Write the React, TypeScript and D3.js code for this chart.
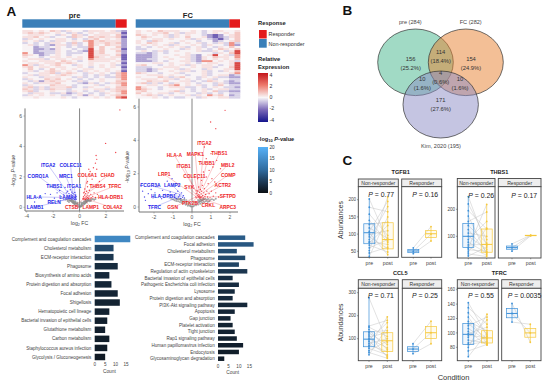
import * as d3 from 'd3'

const FONT = 'Arial, "Liberation Sans", sans-serif'

// ---- A: heatmaps, levels 0-8 per cell (4 is about zero)
const heatLevels = [-4, -2.2, -1.2, -0.5, 0.05, 0.35, 0.75, 1.6, 3.0]
const heatPre = [
  '5545465354435554532', '5656545435345455551', '4555443546534555462', '5564534436546565561',
  '3545445543435645452', '5453435545467565552', '3434355436347556562', '4534325535347546552',
  '4423345434337464462', '4422325443438464551', '4423335434328564462', '7422335433348564452',
  '6542345434448555461', '5443455454548654551', '4555345545547555541', '5445554654345555452',
  '4554556565445444541', '7535456443545454532', '5645545544543454541', '4643464545455445442',
  '4534565454354545451', '3445563565435454367', '4535545654434353467', '5443555443534343367',
  '3544656454343454457', '4352565543534454466', '5435556444325343567', '3544465543444534457',
  '5635355563435445466', '6535365534454553566', '5634454435434354567', '4355433523543435457',
  '3545454334525434566', '4454444543444545478',
]
const heatFC = [
  '5454655544543455445', '5445564535543454546', '6545453545443212456', '4654453546445212356',
  '4545545445354321346', '5436544454434423456', '5465445345453435373', '4545453544543544372',
  '3434545453453435464', '3344454435454346546', '4543534544453354358', '3323434445444435468',
  '2223444545324584537', '2223454455325465547', '2233445445325454546', '2223434455327745453',
  '4445545445434554458', '5644345453545543458', '3334455544545534468', '3323544535443544558',
  '3323445455345343546', '6544344534445344457', '4455545443445345523', '5444653564435453322',
  '4555455345434534433', '4465564455343654323', '5635343545434435322', '4455456745453436433',
  '7544345553343454332', '7654344454345345533', '5644445634345463322', '6454553454435343433',
  '4565345445354756423', '4445434334435445533',
]
const exprTicks = [4, 2, 0, -2, -4]
const pvalTicks = [20, 15, 10, 5, 0]

// ---- A: volcano points [log2FC, -log10 P]
const leftGrey = [[-.05,.02],[.05,.03],[-.1,.05],[.1,.06],[-.15,.08],[.15,.09],[-.2,.1],[.2,.12],[-.25,.14],[.25,.15],[-.3,.17],[.3,.18],[-.35,.2],[.35,.22],[-.4,.22],[.4,.25],[-.45,.27],[.45,.28],[-.5,.3],[.5,.33],[-.55,.34],[.55,.36],[-.6,.38],[.6,.4],[-.65,.42],[.65,.44],[-.7,.45],[.7,.47],[-.75,.48],[.8,.5],[-.85,.5],[.9,.52],[-.95,.53],[1.0,.55],[-.12,.2],[.14,.22],[-.22,.25],[.24,.3],[-.3,.35],[.33,.36],[-.38,.4],[.42,.42],[-.47,.42],[.5,.45],[-.55,.48],[.58,.5],[-.18,.16],[.18,.2],[-.28,.24],[.28,.26],[-.42,.32],[.46,.38],[-.62,.46],[.62,.48],[-.08,.1],[.08,.12],[-.34,.3],[.38,.33],[-.5,.4],[.55,.42],[-.72,.5],[.75,.4],[-.8,.35],[.85,.42],[-.9,.42],[1.1,.5],[-1.05,.52],[1.2,.55],[-.16,.3],[.12,.32]]
const leftBlue = [[-3.8,.75],[-3.4,.35],[-3.0,.7],[-2.6,.9],[-2.2,.85],[-1.9,.6],[-1.7,.95],[-1.5,1.1],[-1.4,.7],[-1.2,.55],[-1.2,.85],[-1.1,1.3],[-1.0,.65],[-1.0,.95],[-.95,.6],[-.9,.75],[-.9,1.05],[-.85,.6],[-.8,.7],[-.8,.9],[-.75,.6],[-.72,.8],[-.7,1.15],[-.68,.58],[-.65,.7],[-.62,.85],[-.6,.55],[-.6,1.0],[-.55,.65],[-.52,.78],[-.5,.55],[-.5,.92],[-.46,.6],[-.45,.72],[-.42,.85],[-.4,.52],[-.38,.62],[-.36,.98],[-.34,.55],[-.32,.7],[-.3,.5],[-.3,.82],[-.28,.6],[-.26,.52],[-.24,.72]]
const leftRed = [[3.05,6.4],[1.97,4.2],[2.73,3.6],[1.25,3.4],[1.3,3.15],[1.2,2.9],[1.05,2.6],[1.3,2.5],[.8,2.35],[.7,2.5],[.6,1.7],[.55,1.6],[.95,1.85],[1.5,1.7],[.25,.55],[.3,.7],[.3,.95],[.34,.58],[.38,.8],[.4,1.2],[.42,.62],[.45,.9],[.48,.55],[.5,.7],[.52,1.05],[.55,.6],[.58,.8],[.6,1.35],[.62,.65],[.65,.95],[.68,.58],[.72,.75],[.75,1.1],[.8,.6],[.85,.85],[.9,.62],[.95,1.3],[1.0,.72],[1.1,.95],[1.2,.65],[1.35,.85],[1.6,.75],[.28,.6],[.33,.5],[.36,1.0],[.44,.52]]
const rightGrey = [[-.05,.03],[.05,.03],[-.1,.06],[.1,.07],[-.15,.1],[.15,.11],[-.2,.14],[.2,.15],[-.25,.18],[.25,.2],[-.3,.22],[.3,.24],[-.35,.25],[.35,.28],[-.4,.28],[.4,.31],[-.45,.32],[.45,.34],[-.5,.35],[.5,.38],[-.55,.38],[.55,.41],[-.6,.42],[.6,.44],[-.65,.46],[.65,.47],[-.7,.48],[.7,.49],[-.78,.46],[.78,.44],[-.85,.5],[.85,.48],[.95,.42],[1.05,.47],[-.92,.4],[.18,.25],[-.18,.24],[.28,.3],[-.28,.3],[.38,.36],[-.38,.36],[.48,.43],[-.48,.42],[.58,.48],[-.58,.48],[.08,.15],[-.08,.14],[.22,.1],[-.22,.08],[.33,.15],[-.33,.14],[.43,.2],[-.43,.2],[.53,.26],[-.53,.25],[.63,.3],[-.63,.3],[.73,.34],[-.73,.35],[.83,.3],[-.83,.36],[.15,.32],[-.14,.33],[.32,.42],[-.3,.41],[.42,.47],[-.4,.46],[.9,.34],[1.15,.42],[1.25,.5],[-1.0,.46],[-1.1,.5]]
const rightBlue = [[-2.7,1.3],[-2.6,.95],[-2.5,.6],[-2.45,.4],[-2.3,.8],[-2.15,1.05],[-2.05,.55],[-1.95,.85],[-1.8,1.25],[-1.7,.65],[-1.6,.5],[-1.55,1.0],[-1.4,.75],[-1.3,1.55],[-1.2,.55],[-1.15,.9],[-1.05,1.7],[-1.0,.65],[-.95,1.25],[-.9,.55],[-.85,.8],[-.8,.5],[-.75,.95],[-.7,.6],[-.65,.72],[-.6,.52],[-.55,.85],[-.5,.58],[-.45,.68],[-.4,.55]]
const rightRed = [[1.74,5.8],[.98,5.1],[1.25,4.7],[.65,3.6],[.6,3.1],[1.0,3.2],[.75,2.9],[1.3,2.8],[.5,2.6],[1.1,2.4],[.9,2.2],[.6,2.1],[1.5,2.3],[.4,1.9],[.75,1.8],[1.05,1.7],[1.2,1.5],[.5,1.6],[.3,1.7],[.85,1.4],[.25,.55],[.28,.7],[.3,.95],[.32,.6],[.35,1.2],[.36,.75],[.38,.55],[.4,.88],[.42,.65],[.44,1.05],[.46,.56],[.48,.78],[.5,.95],[.52,.6],[.55,1.3],[.56,.7],[.6,.55],[.62,.85],[.65,1.1],[.68,.62],[.72,.75],[.78,.95],[.82,.6],[.9,.8],[.95,.55],[1.02,.95],[1.12,.65],[1.25,.85],[1.4,.6],[.2,.6],[.22,.8],[.26,1.0],[.33,.62],[.37,.68],[.41,.6]]

// ---- A: gene labels [name, labelX, labelY, pointX, pointY]
const leftBlueLabels = [['ITGA2',-2.38,2.78,-.85,.9],['COLEC11',-.68,2.78,-.5,1.0],['CORO1A',-3.14,2.06,-1.2,.8],['MRC1',-1.04,2.04,-.5,.9],['THBS1',-1.92,1.36,-.7,.7],['ITGA1',-.41,1.36,-.3,.7],['HLA-A',-3.44,.68,-1.0,.65],['LAMA4',-.89,.68,-.5,.7],['RELN',-1.92,.35,-.5,.6],['LAMB1',-3.36,0,-.6,.6]]
const leftRedLabels = [['COL6A1',.58,2.1,.35,.9],['CHAD',2.12,2.08,.5,1.0],['THBS4',1.36,1.4,.4,.8],['TFRC',2.67,1.4,.6,.7],['HLA-DRB1',2.35,.68,.5,.6],['COL4A2',2.5,-.03,.5,.55],['LAMP1',.85,-.03,.35,.55],['CTSB',-.6,-.03,.25,.5]]
const rightBlueLabels = [['FCGR3A',-2.19,1.3,-.6,.75],['LAMP2',-1.04,1.3,-.5,.7],['HLA-DPB1',-1.51,.66,-.45,.65],['TFRC',-1.97,0,-.6,.65]]
const rightRedLabels = [['ITGA2',.65,3.83,.4,1.0],['MAPK1',.17,3.19,.35,.9],['THBS1',1.44,3.2,.55,1.1],['HLA-A',-.93,3.11,.3,.8],['ITGB1',-.44,2.47,.3,.7],['TUBB1',.77,2.6,.4,.85],['MBL2',1.88,2.53,.5,.9],['LRP1',-1.46,1.96,.25,.6],['COLEC11',.12,1.86,.3,.75],['COMP',1.91,1.92,.5,.8],['ACTR2',1.62,1.32,.45,.6],['SYK',-.14,1.16,.25,.7],['SFTPD',1.88,.62,.4,.6],['GSN',-1.02,-.04,.2,.6],['ARPC3',1.88,-.02,.4,.55],['CRKL',.86,.1,.35,.55],['PTK2B',-.1,.2,.25,.55]]

// ---- A: enrichment bars
const preTerms = ['Complement and coagulation cascades','Cholesterol metabolism','ECM-receptor interaction','Phagosome','Biosynthesis of amino acids','Protein digestion and absorption','Focal adhesion','Shigellosis','Hematopoietic cell lineage','Bacterial invasion of epithelial cells','Glutathione metabolism','Carbon metabolism','Staphylococcus aureus infection','Glycolysis / Gluconeogenesis']
const preCounts = [17, 9, 9, 11, 7, 8, 11, 12, 7, 6, 5, 7, 6, 5]
const prePvals = [14, 6.5, 4.5, 3.2, 2.8, 2.6, 2.4, 2.3, 2.2, 2, 1.9, 1.7, 1.5, 1.3]
const fcTerms = ['Complement and coagulation cascades','Focal adhesion','Cholesterol metabolism','Phagosome','ECM-receptor interaction','Regulation of actin cytoskeleton','Bacterial invasion of epithelial cells','Pathogenic Escherichia coli infection','Lysosome','Protein digestion and absorption','PI3K-Akt signaling pathway','Apoptosis','Gap junction','Platelet activation','Tight junction','Rap1 signaling pathway','Human papillomavirus infection','Endocytosis','Glycosaminoglycan degradation']
const fcCounts = [13, 17, 9, 13, 10, 14, 7, 10, 8, 7, 14, 8, 6, 7, 8, 9, 12, 10, 3]
const fcPvals = [8.5, 8, 7, 6.5, 6, 4.5, 3.6, 3.4, 3.2, 3, 2.8, 2.6, 2.4, 2.3, 2.2, 2, 1.8, 1.7, 1.5]

// ---- B: Venn labels
const vennText = [['156','(25.2%)',410.7,58.7],['154','(24.9%)',471,58.7],['114','(18.4%)',440.7,52.3],['4','(0.6%)',440.7,72.7],['10','(1.6%)',422.3,79.3],['10','(1.6%)',460,79.3],['171','(27.6%)',440.7,100]]

// ---- C: paired abundances, non-responder and responder
const tgfb1Pre = [35,45,52,60,68,75,78,84,92,98,104,108,118,128,140,158,178,202]
const tgfb1Post = [150,62,208,84,48,125,70,180,58,110,40,195,88,135,76,96,165,80]
const thbs1Pre = [27,35,42,50,56,60,68,78,88,100,112,125,140,155,175,195,220,247]
const thbs1Post = [60,25,130,45,218,30,70,38,155,52,100,41,75,190,34,127,88,65]
const ccl5Pre = [30,40,48,58,65,72,80,88,95,100,108,116,125,130,140,150,155,278]
const ccl5Post = [150,15,90,30,195,44,100,25,170,60,126,20,75,135,52,110,180,85]
const tfrcPre = [67,75,80,84,86,90,94,97,99,102,106,110,113,116,122,128,135,142]
const tfrcPost = [100,84,126,88,95,86,118,93,108,83,90,122,92,103,85,98,112,96]

const facets = [
  { gene: 'TGFB1', cx: 400.7, ty: 173.7, top: 179, strip: 186.7, bottom: 257.3, nr: [358.3, 398.3], r: [401.7, 441.7], xs: [369.3, 387.7, 413.3, 431],
    ticks: [200, 150, 100, 50], cal: [50, 251.3, 200, 199.7], p: ['0.77', '0.16'], pPos: [368.3, 412.3], py: 196.7, axis: true, title: 'Abundances',
    nrPre: tgfb1Pre, nrPost: tgfb1Post, rPre: [43, 50, 60], rPost: [80, 100, 122],
    boxes: [[72, 104, 130], [57, 84, 133], [46, 51, 55], [90, 101, 110]] },
  { gene: 'THBS1', cx: 499.3, ty: 173.7, top: 178.5, strip: 186.7, bottom: 258, nr: [457.3, 495], r: [498.3, 541], xs: [468.3, 486.7, 512, 530.7],
    ticks: [200, 100], cal: [100, 236.3, 200, 209.3], p: ['0.26', '0.17'], pPos: [468.3, 511.3], py: 197.7, axis: false, title: '',
    nrPre: thbs1Pre, nrPost: thbs1Post, rPre: [45, 58, 72], rPost: [102, 103, 104],
    boxes: [[59, 100, 148], [41, 70, 127], [52, 58, 64], [102, 103, 104]] },
  { gene: 'CCL5', cx: 400.3, ty: 275, top: 279.7, strip: 288.3, bottom: 360.7, nr: [358.3, 398.3], r: [402.3, 441.7], xs: [369, 387.3, 413, 431],
    ticks: [300, 200, 100], cal: [100, 338.7, 200, 315.7], p: ['0.71', '0.25'], pPos: [368, 412], py: 298.3, axis: true, title: 'Abundances',
    nrPre: ccl5Pre, nrPost: ccl5Post, rPre: [35, 55, 78], rPost: [78, 126, 176],
    boxes: [[65, 98, 130], [44, 91, 126], [44, 55, 65], [101, 126, 153]] },
  { gene: 'TFRC', cx: 499.3, ty: 275, top: 279.7, strip: 288.3, bottom: 360.7, nr: [457.3, 498.3], r: [501.7, 541], xs: [468.3, 487, 512, 530.3],
    ticks: [160, 140, 120, 100, 80], cal: [80, 347.3, 160, 289.7], p: ['0.55', '0.0035'], pPos: [468, 507.7], py: 298.3, axis: false, title: '',
    nrPre: tfrcPre, nrPost: tfrcPost, rPre: [115, 127, 141], rPost: [112, 100, 87],
    boxes: [[84, 98, 113], [86, 93, 103], [121, 127, 134], [94, 100, 106]] },
]

const heatColor = d3.scaleLinear<string>().domain([-4, -2, 0, 2, 4]).range(['#14148c', '#7b68b8', '#f8f6f8', '#ee7a6c', '#c4161c'])
const pvalColor = d3.scaleLinear<string>().domain([0, 5, 10, 20]).range(['#0b0f14', '#1d3a56', '#2f6b9e', '#56b1f7'])

function Heatmap({ rows, x0, x1, split, title }: any) {
  const y0 = 30, y1 = 98.3
  const nCols = rows[0].length
  const xs = d3.scaleBand<number>().domain(d3.range(nCols)).range([x0, x1])
  const ys = d3.scaleBand<number>().domain(d3.range(rows.length)).range([y0, y1])
  return (
    <g>
      <text x={(x0 + x1) / 2} y={17.5} textAnchor="middle" fontSize={7.5} fontWeight="bold" fill="#222">{title}</text>
      <rect x={x0} y={19.3} width={split - x0} height={8.4} fill="#3a7fb8" />
      <rect x={split} y={19.3} width={x1 - split} height={8.4} fill="#e41a1c" />
      {rows.map((row: string, r: number) => row.split('').map((c, i) => (
        <rect key={r + '-' + i} x={xs(i)} y={ys(r)} width={xs.bandwidth() + 0.3} height={ys.bandwidth() + 0.3} fill={heatColor(heatLevels[+c])} />
      )))}
    </g>
  )
}

function Volcano({ xDom, xRange, yCal, xTicks, axisX, x0Line, axisY, grey, blue, red, blueLabels, redLabels, yLabelX }: any) {
  const x = d3.scaleLinear().domain(xDom).range(xRange)
  const y = d3.scaleLinear().domain([0, 6]).range(yCal)
  const labelSet = (list: any[], color: string) => list.map((d, i) => (
    <g key={d[0] + i}>
      <line x1={x(d[1])} y1={y(d[2])} x2={x(d[3])} y2={y(d[4])} stroke={color} strokeWidth={0.4} opacity={0.6} />
      <text x={x(d[1])} y={y(d[2]) + 1.7} textAnchor="middle" fontSize={4.9} fontWeight="bold" fill={color} stroke="#fff" strokeWidth={0.3} paintOrder="stroke">{d[0]}</text>
    </g>
  ))
  return (
    <g>
      {grey.map((d: number[], i: number) => <circle key={i} cx={x(d[0])} cy={y(d[1])} r={1} fill="#8a8a8a" opacity={0.75} />)}
      {blue.map((d: number[], i: number) => <circle key={i} cx={x(d[0])} cy={y(d[1])} r={0.7} fill="#2222e8" opacity={0.8} />)}
      {red.map((d: number[], i: number) => <circle key={i} cx={x(d[0])} cy={y(d[1])} r={0.7} fill="#ee1c25" opacity={0.8} />)}
      <line x1={x(0)} x2={x(0)} y1={y(6.5)} y2={axisY} stroke="#777" strokeWidth={0.9} />
      <line x1={x0Line} x2={x0Line} y1={y(6.5)} y2={axisY} stroke="#777" strokeWidth={1} />
      <line x1={x0Line} x2={axisX} y1={axisY} y2={axisY} stroke="#777" strokeWidth={1} />
      {labelSet(blueLabels, '#2222e8')}
      {labelSet(redLabels, '#ee1c25')}
      {xTicks.map((t: number) => (
        <g key={t}>
          <line x1={x(t)} x2={x(t)} y1={axisY} y2={axisY + 1.5} stroke="#777" strokeWidth={0.5} />
          <text x={x(t)} y={axisY + 6.5} textAnchor="middle" fontSize={5} fill="#555">{t}</text>
        </g>
      ))}
      {[0, 2, 4, 6].map(t => (
        <g key={t}>
          <line x1={x0Line - 1.5} x2={x0Line} y1={y(t)} y2={y(t)} stroke="#777" strokeWidth={0.5} />
          <text x={x0Line - 3} y={y(t) + 1.8} textAnchor="end" fontSize={5} fill="#555">{t}</text>
        </g>
      ))}
      <text x={x(0)} y={axisY + 13.5} textAnchor="middle" fontSize={5.2} fill="#444">log<tspan fontSize={3.8} dy={1}>2</tspan><tspan dy={-1}> FC</tspan></text>
      <text transform={`translate(${yLabelX},${y(2.4)}) rotate(-90)`} textAnchor="middle" fontSize={5.2} fill="#444">-log<tspan fontSize={3.8} dy={1}>10</tspan><tspan dy={-1}> </tspan><tspan fontStyle="italic">P</tspan>-value</text>
    </g>
  )
}

function EnrichBars({ terms, counts, pvals, x0, first, last, barH, fontSize }: any) {
  const x = d3.scaleLinear().domain([0, 15]).range([x0, x0 + 31.4])
  const y = d3.scalePoint<string>().domain(terms).range([first, last])
  return (
    <g>
      {terms.map((t: string, i: number) => (
        <g key={t}>
          <text x={x0 - 3.3} y={y(t)! + fontSize * 0.36} textAnchor="end" fontSize={fontSize} fill="#444">{t}</text>
          <rect x={x(0)} y={y(t)! - barH / 2} width={x(counts[i]) - x(0)} height={barH} fill={pvalColor(pvals[i])} />
        </g>
      ))}
      {[0, 5, 10, 15].map(t => (
        <text key={t} x={x(t)} y={last + 9} textAnchor="middle" fontSize={4.6} fill="#444">{t}</text>
      ))}
      <text x={x(7.5) - 1} y={last + 15.7} textAnchor="middle" fontSize={4.8} fill="#444">Count</text>
    </g>
  )
}

function BoxGroup({ xc, vals, box, color, y, w }: any) {
  const [lo, hi] = d3.extent(vals as number[]) as [number, number]
  return (
    <g>
      <line x1={xc} x2={xc} y1={y(lo)} y2={y(hi)} stroke={color} strokeWidth={0.7} />
      <rect x={xc - w / 2} y={y(box[2])} width={w} height={Math.max(y(box[0]) - y(box[2]), 0.5)} fill={color} fillOpacity={0.08} stroke={color} strokeWidth={0.7} />
      <line x1={xc - w / 2} x2={xc + w / 2} y1={y(box[1])} y2={y(box[1])} stroke={color} strokeWidth={1} />
      {vals.map((v: number, i: number) => <circle key={i} cx={xc} cy={y(v)} r={0.9} fill={color} />)}
    </g>
  )
}

function Facet({ f }: any) {
  const y = d3.scaleLinear().domain([f.cal[0], f.cal[2]]).range([f.cal[1], f.cal[3]])
  const blue = '#3d90d8', gold = '#f6c83c'
  const panel = (px: number[], name: string) => (
    <g key={name}>
      <rect x={px[0]} y={f.top} width={px[1] - px[0]} height={f.strip - f.top} fill="#eeeeee" stroke="#444" strokeWidth={0.9} />
      <rect x={px[0]} y={f.strip} width={px[1] - px[0]} height={f.bottom - f.strip} fill="#fff" stroke="#444" strokeWidth={0.9} />
      <text x={(px[0] + px[1]) / 2} y={f.strip - 2.2} textAnchor="middle" fontSize={5.1} fill="#333">{name}</text>
    </g>
  )
  const pairs = (xa: number, xb: number, a: number[], b: number[]) => a.map((v, i) => (
    <line key={i} x1={xa} x2={xb} y1={y(v)} y2={y(b[i])} stroke="#c4c4c4" strokeWidth={0.5} />
  ))
  const tickMarks = f.xs.map((t: number) => (
    <line key={t} x1={t} x2={t} y1={f.bottom} y2={f.bottom + 1.3} stroke="#444" strokeWidth={0.5} />
  ))
  const condLabels = f.xs.map((xc: number, i: number) => (
    <text key={i} x={xc} y={f.bottom + 7.2} textAnchor="middle" fontSize={5.2} fill="#444">{i % 2 === 0 ? 'pre' : 'post'}</text>
  ))
  return (
    <g>
      <text x={f.cx} y={f.ty} textAnchor="middle" fontSize={5.6} fontWeight="bold" fill="#222">{f.gene}</text>
      {panel(f.nr, 'Non-responder')}
      {panel(f.r, 'Responder')}
      {pairs(f.xs[0], f.xs[1], f.nrPre, f.nrPost)}
      {pairs(f.xs[2], f.xs[3], f.rPre, f.rPost)}
      <BoxGroup xc={f.xs[0]} vals={f.nrPre} box={f.boxes[0]} color={blue} y={y} w={11} />
      <BoxGroup xc={f.xs[1]} vals={f.nrPost} box={f.boxes[1]} color={gold} y={y} w={11} />
      <BoxGroup xc={f.xs[2]} vals={f.rPre} box={f.boxes[2]} color={blue} y={y} w={11} />
      <BoxGroup xc={f.xs[3]} vals={f.rPost} box={f.boxes[3]} color={gold} y={y} w={11} />
      {tickMarks}
      {condLabels}
      {f.ticks.map((t: number) => (
        <g key={t}>
          <line x1={f.nr[0] - 1.3} x2={f.nr[0]} y1={y(t)} y2={y(t)} stroke="#444" strokeWidth={0.5} />
          <text x={f.nr[0] - 2.2} y={y(t) + 1.6} textAnchor="end" fontSize={4.6} fill="#444">{t}</text>
        </g>
      ))}
      {f.p.map((p: string, i: number) => (
        <text key={i} x={f.pPos[i]} y={f.py} fontSize={6.9} fill="#222"><tspan fontStyle="italic">P</tspan> = {p}</text>
      ))}
      {f.axis && (
        <text transform={`translate(342.5,${(f.strip + f.bottom) / 2 - 2}) rotate(-90)`} textAnchor="middle" fontSize={6.8} fill="#333">{f.title}</text>
      )}
    </g>
  )
}

export default function App() {
  return (
    <svg width={550} height={387} viewBox="0 0 550 387" fontFamily={FONT} style={{ position: 'absolute', left: 0, top: 0, background: '#fff' }}>
      <defs>
        <linearGradient id="exprGrad" x1="0" y1="0" x2="0" y2="1">
          {d3.range(0, 1.01, 0.25).map(o => <stop key={o} offset={o} stopColor={heatColor(4 - 8 * o)} />)}
        </linearGradient>
        <linearGradient id="pvalGrad" x1="0" y1="0" x2="0" y2="1">
          {[20, 15, 10, 5, 0].map((v, i) => <stop key={v} offset={i / 4} stopColor={pvalColor(v)} />)}
        </linearGradient>
      </defs>

      <text x={6.5} y={15.5} fontSize={13.5} fontWeight="bold" fill="#111">A</text>
      <text x={342.5} y={15} fontSize={13.5} fontWeight="bold" fill="#111">B</text>
      <text x={342.5} y={165} fontSize={13.5} fontWeight="bold" fill="#111">C</text>

      <Heatmap rows={heatPre} x0={22.3} x1={126.7} split={115.7} title="pre" />
      <Heatmap rows={heatFC} x0={135.7} x1={240} split={229.3} title="FC" />

      {/* legends */}
      <text x={258} y={25} fontSize={5.8} fontWeight="bold" fill="#222">Response</text>
      <rect x={259} y={30} width={7.7} height={8.5} fill="#e41a1c" />
      <rect x={259} y={39} width={7.7} height={8.7} fill="#3a7fb8" />
      <text x={268.5} y={36.3} fontSize={5.4} fill="#333">Responder</text>
      <text x={268.5} y={45.5} fontSize={5.4} fill="#333">Non-responder</text>
      <text x={258} y={61} fontSize={5.8} fontWeight="bold" fill="#222">Relative</text>
      <text x={258} y={68.5} fontSize={5.8} fontWeight="bold" fill="#222">Expression</text>
      <rect x={258} y={73} width={10} height={49} fill="url(#exprGrad)" />
      {exprTicks.map((t, i) => (
        <text key={t} x={269.5} y={77 + i * 11 + (i === 4 ? 0.5 : 0)} fontSize={5.2} fill="#333">{t}</text>
      ))}
      <text x={258} y={141} fontSize={5.6} fontWeight="bold" fill="#222">-log<tspan fontSize={4} dy={1}>10</tspan><tspan dy={-1}> </tspan><tspan fontStyle="italic">P</tspan>-value</text>
      <rect x={258} y={147} width={10} height={46} fill="url(#pvalGrad)" />
      {pvalTicks.map((t, i) => (
        <text key={t} x={269.5} y={148.6 + i * 11.5} fontSize={4.6} fill="#333">{t}</text>
      ))}

      <Volcano xDom={[-4, 2]} xRange={[26.7, 106]} yCal={[207.3, 116]} xTicks={[-4, -2, 0, 2]} axisX={124} x0Line={25} axisY={211}
        grey={leftGrey} blue={leftBlue} red={leftRed} blueLabels={leftBlueLabels} redLabels={leftRedLabels} yLabelX={15} />
      <Volcano xDom={[-2, 2]} xRange={[154, 230]} yCal={[207, 107]} xTicks={[-2, -1, 0, 1, 2]} axisX={238} x0Line={139} axisY={212}
        grey={rightGrey} blue={rightBlue} red={rightRed} blueLabels={rightBlueLabels} redLabels={rightRedLabels} yLabelX={128.5} />

      <EnrichBars terms={preTerms} counts={preCounts} pvals={prePvals} x0={94.7} first={239} last={357} barH={6.5} fontSize={4.55} />
      <EnrichBars terms={fcTerms} counts={fcCounts} pvals={fcPvals} x0={218} first={237.7} last={358.7} barH={4.5} fontSize={4.55} />

      {/* Venn */}
      <g stroke="#333" strokeWidth={0.7}>
        <ellipse cx={415.5} cy={62.3} rx={37.8} ry={33.3} fill="#43b58b" fillOpacity={0.5} />
        <ellipse cx={465.8} cy={62.3} rx={37.5} ry={33.3} fill="#e77f2d" fillOpacity={0.5} />
        <ellipse cx={440.7} cy={104.5} rx={37.7} ry={33.5} fill="#8b8bc5" fillOpacity={0.5} />
      </g>
      <text x={410.3} y={23.5} textAnchor="middle" fontSize={5.6} fill="#444">pre (284)</text>
      <text x={470.7} y={23.5} textAnchor="middle" fontSize={5.6} fill="#444">FC (282)</text>
      <text x={441} y={148} textAnchor="middle" fontSize={5.6} fill="#444">Kim, 2020 (195)</text>
      {vennText.map((d: any, i) => (
        <g key={i} fontSize={5.8} fill="#333" textAnchor="middle">
          <text x={d[2]} y={d[3] + 2}>{d[0]}</text>
          <text x={d[2]} y={d[3] + 11}>{d[1]}</text>
        </g>
      ))}

      {facets.map(f => <Facet key={f.gene} f={f} />)}
      <text x={453.5} y={379.5} textAnchor="middle" fontSize={7.5} fill="#333">Condition</text>
    </svg>
  )
}
